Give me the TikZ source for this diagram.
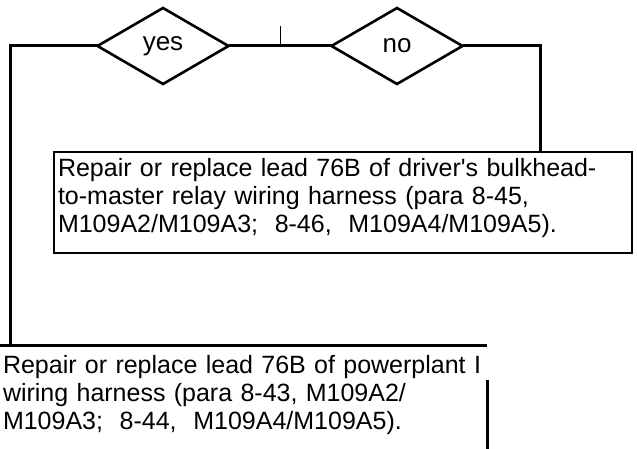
\documentclass[tikz,border=0pt]{standalone}
\usepackage{fontspec}
\setmainfont{Liberation Sans}
\usetikzlibrary{shapes.geometric, calc}
\definecolor{chartink}{RGB}{0,0,0}
\newcommand{\topfix}{\rule{0pt}{18pt}}
\newcommand{\bottomfix}{\rule[-15pt]{0pt}{15pt}}
\tikzset{
  choice/.style={
    diamond,
    draw=chartink,
    line width=2.6pt,
    minimum width=131pt,
    minimum height=76pt,
    inner sep=0pt,
    outer sep=0pt,
    font=\fontsize{26}{28}\selectfont
  },
  repairbox/.style={
    draw=chartink,
    line width=2.6pt,
    align=left,
    text width=570pt,
    inner xsep=4pt,
    inner ysep=6pt,
    outer sep=0pt,
    anchor=north west,
    font=\fontsize{25}{28}\selectfont
  },
  openbox/.style={
    align=left,
    text width=481pt,
    inner xsep=3pt,
    inner ysep=10pt,
    outer sep=0pt,
    anchor=north west,
    font=\fontsize{25}{28}\selectfont
  },
  wire/.style={line width=3pt, draw=chartink},
  tick/.style={line width=0.8pt, draw=chartink}
}

\begin{document}
\begin{tikzpicture}[x=1pt,y=-1pt]
    \useasboundingbox (0,0) rectangle (637,449);
    \node[choice] (yes) at (163,46) {yes};
    \node[choice] (no) at (397,46) {no};
    \node[repairbox] (repA) at (54,152) {\topfix\makebox[555pt][s]{Repair or replace lead 76B of driver\textquotesingle s bulkhead-}\\to-master relay wiring harness (para 8-45,\\M109A2/M109A3;\ \ 8-46,\ \ M109A4/M109A5).\bottomfix};
    \node[openbox] (repB) at (0,345) {\topfix Repair or replace lead 76B of powerplant I\\wiring harness (para 8-43, M109A2/\\M109A3;\ \ 8-44,\ \ M109A4/M109A5).};

    \draw[wire] (yes.west) -| ($(repB.north west)+(10,0)$);
    \draw[wire] (yes.east) -- (no.west);
    \draw[tick] ($(yes.east)!0.5!(no.west)$) -- ++(0,-20);
    \draw[wire] (no.east) -| ($(repA.north west)+(486,0)$);
    \draw[wire] (repB.north west) -- (repB.north east);
    \draw[wire] ($(repB.north east)+(0,35)$) -- ($(repB.south east)+(0,10)$);
  \end{tikzpicture}
\end{document}
